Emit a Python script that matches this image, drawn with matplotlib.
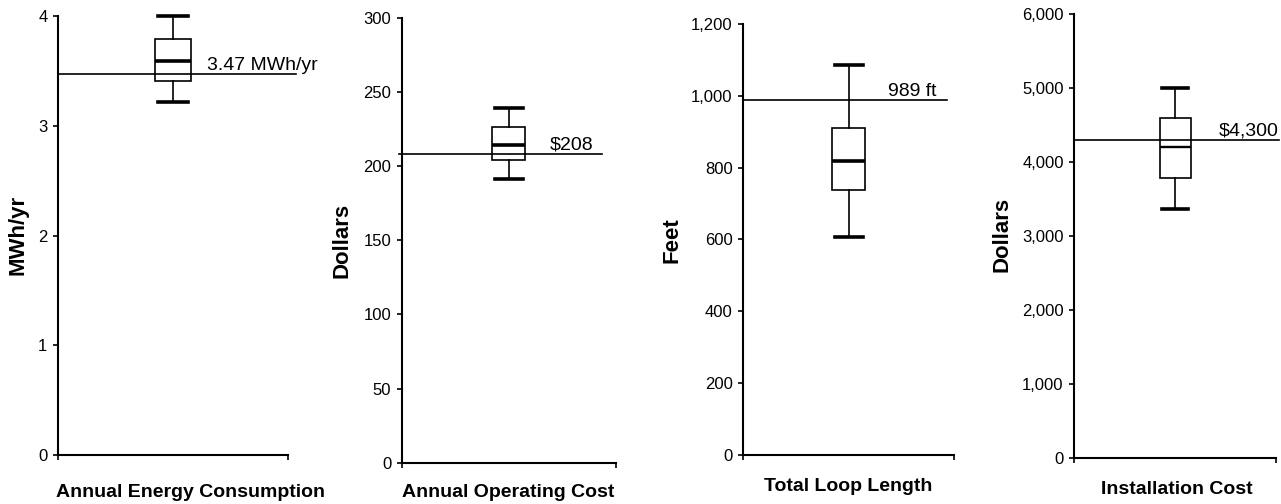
import matplotlib
matplotlib.use('Agg')
import matplotlib.pyplot as plt
from matplotlib.ticker import FuncFormatter

plt.rcParams['font.family'] = ['Liberation Sans', 'DejaVu Sans']

# box plot summaries for each panel
titles = ['Annual Energy Consumption', 'Annual Operating Cost', 'Total Loop Length', 'Installation Cost']
units = ['MWh/yr', 'Dollars', 'Feet', 'Dollars']
whisker_low = [3.22, 191.5, 606, 3370]
q1 = [3.41, 204, 737, 3785]
median = [3.59, 214.5, 818, 4200]
q3 = [3.79, 226, 911, 4600]
whisker_high = [4.0, 239, 1086, 5000]
# reference values drawn as horizontal lines
ref_values = [3.47, 208, 989, 4300]
ref_labels = ['3.47 MWh/yr', r'\$208', '989 ft', r'\$4,300']
y_max = [4, 300, 1200, 6000]
y_step = [1, 50, 200, 1000]

W, H = 1281, 504
fig = plt.figure(figsize=(W / 100, H / 100), dpi=100)

# axes frames in pixels: left, right, top, bottom
frames = [(58, 288, 16, 455), (401.7, 616, 17.7, 462.7),
          (743.3, 954.3, 24, 454.7), (1074.3, 1276, 14, 458.3)]
ref_span = [(0, 1.035), (-0.013, 0.935), (0, 0.964), (0, 1.015)]
ref_text_x = [0.647, 0.692, 0.687, 0.714]
ylabel_pos = [(18, 235), (342, 240), (672, 240), (1002, 234)]
xlabel_pos = [(190, 497), (508, 497), (848, 491), (1177, 494)]
median_lw = [2.6, 2.6, 2.6, 1.7]

for i in range(4):
    l, r, t, b = frames[i]
    ax = fig.add_axes([l / W, 1 - b / H, (r - l) / W, (b - t) / H])
    stats = [dict(whislo=whisker_low[i], q1=q1[i], med=median[i],
                  q3=q3[i], whishi=whisker_high[i], fliers=[])]
    parts = ax.bxp(stats, positions=[0.5], widths=0.155, capwidths=0.13,
                   showfliers=False, patch_artist=True,
                   boxprops=dict(facecolor='white', edgecolor='black', linewidth=1.2),
                   whiskerprops=dict(color='black', linewidth=1.2),
                   capprops=dict(color='black', linewidth=2.6),
                   medianprops=dict(color='black', linewidth=median_lw[i]))
    for group in parts.values():
        for artist in group:
            artist.set_clip_on(False)

    x0, x1 = ref_span[i]
    ax.plot([x0, x1], [ref_values[i], ref_values[i]], color='black', lw=1.2,
            transform=ax.get_yaxis_transform(), clip_on=False, zorder=5)
    ax.annotate(ref_labels[i], xy=(ref_text_x[i], ref_values[i]),
                xycoords=('axes fraction', 'data'), xytext=(0, 3),
                textcoords='offset points', va='baseline', ha='left',
                fontsize=14, annotation_clip=False)

    ax.set_xlim(0, 1)
    ax.set_ylim(0, y_max[i])
    ax.set_yticks(range(0, y_max[i] + 1, y_step[i]))
    ax.yaxis.set_major_formatter(FuncFormatter(lambda v, p: f'{v:,.0f}'))
    ax.set_xticks([0, 1])
    ax.set_xticklabels([])
    for side in ['top', 'right']:
        ax.spines[side].set_visible(False)
    for side in ['left', 'bottom']:
        ax.spines[side].set_linewidth(1.5)
    ax.tick_params(direction='out', length=3.6, width=1.2, labelsize=12, pad=4)

    fig.text(ylabel_pos[i][0] / W, 1 - ylabel_pos[i][1] / H, units[i],
             rotation=90, ha='center', va='center', fontsize=16, fontweight='bold')
    fig.text(xlabel_pos[i][0] / W, 1 - xlabel_pos[i][1] / H, titles[i],
             ha='center', va='baseline', fontsize=14, fontweight='bold')

fig.savefig('out.png', dpi=100)
